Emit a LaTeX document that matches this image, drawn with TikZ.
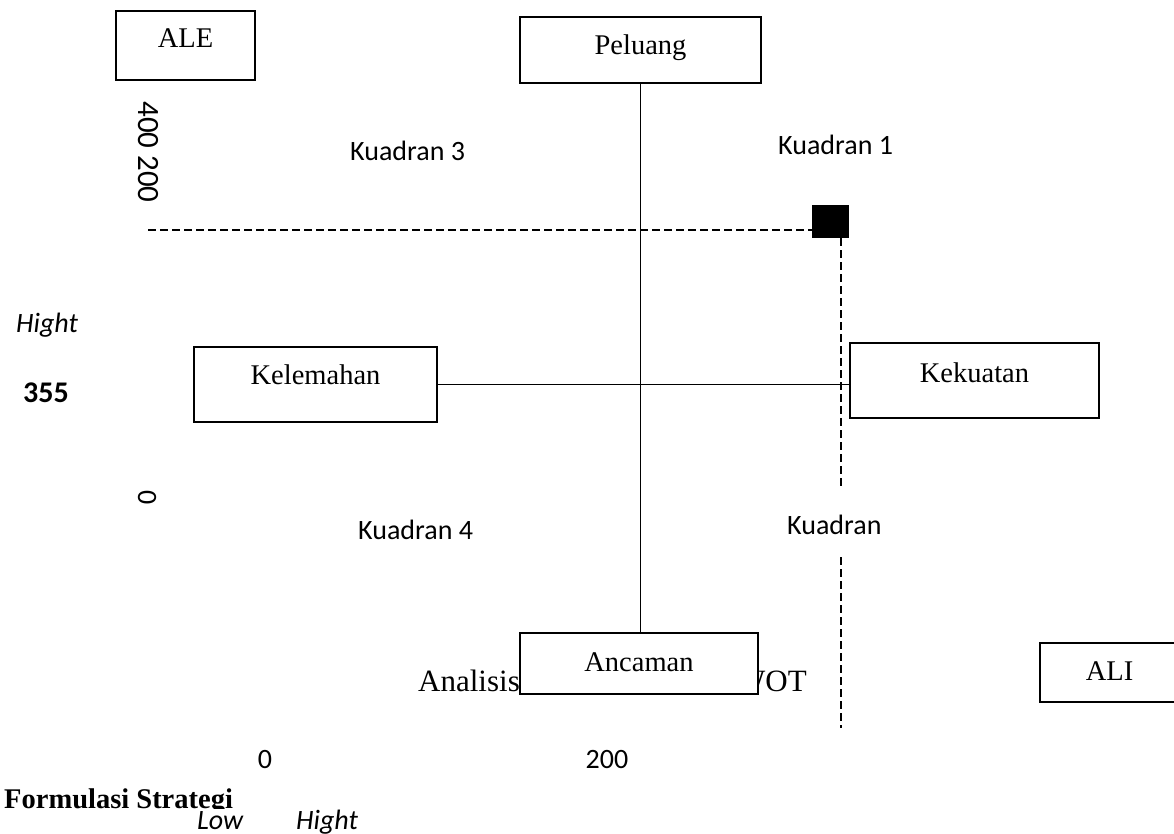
\documentclass[tikz,border=0pt]{standalone}
\usepackage{fontspec}
\setmainfont{Liberation Serif}
\newfontfamily\carlito{Carlito}
\usetikzlibrary{positioning}
\newcommand{\hurufserif}{\fontsize{28.5}{30}\selectfont}
\newcommand{\hurufsans}{\carlito\fontsize{28}{30}\selectfont}

\begin{document}
\begin{tikzpicture}[x=1pt,y=-1pt,
  kotak/.style={draw,line width=1.6pt,fill=white,inner sep=2pt,font=\hurufserif,
    text height=28pt,text depth=20pt},
  teks/.style={inner sep=0pt,anchor=base west,font=\hurufsans},
  putus/.style={line width=1.3pt,dash pattern=on 8pt off 4pt}]
  \useasboundingbox (0,0) rectangle (1174,834);

  % teks di balik kotak ancaman
  \node[inner sep=0pt,anchor=base west,font=\fontsize{31}{32}\selectfont] (analisis) at (418,691) {Analisis};
  \node[inner sep=0pt,anchor=base east,font=\fontsize{31}{32}\selectfont] (swot) at (807,691) {SWOT};

  % kotak
  \node[kotak,minimum width=139pt,minimum height=69pt,text height=25pt] (ale) at (185.5,45.5) {ALE};
  \node[kotak,minimum width=241pt,minimum height=66pt,text depth=18pt] (peluang) at (640.5,50) {Peluang};
  \node[kotak,minimum width=243pt,minimum height=75pt,text height=24pt,text depth=24pt] (kelemahan) at (315.5,384.5) {Kelemahan};
  \node[kotak,minimum width=249pt,minimum height=75pt,text height=25pt,text depth=22pt] (kekuatan) at (974.5,380.5) {Kekuatan};
  \node[kotak,minimum width=238pt,minimum height=61pt,text height=32pt,text depth=17pt] (ancaman) at (639,663.5) {Ancaman};
  \node[kotak,minimum width=139pt,minimum height=59pt,text height=32pt,text depth=17pt] (ali) at (1109.5,672.5) {ALI};

  % sumbu
  \draw[line width=1.5pt] (peluang.south) -- (peluang.south |- ancaman.north);
  \draw[line width=1.5pt] (kelemahan.east) -- (kelemahan.east -| kekuatan.west);

  % kuadran
  \node[teks] (q3) at (350,161) {Kuadran 3};
  \node[teks] (q1) at (778,155) {Kuadran 1};
  \node[teks] (q4) at (358,539) {Kuadran 4};
  \node[teks] (q2) at (787,534) {Kuadran};

  % posisi
  \node[fill=black,inner sep=0pt,minimum width=37pt,minimum height=33pt] (titik) at (830.5,221.5) {};
  \coordinate (awal) at (148,230);
  \coordinate (v1) at (841,490);
  \coordinate (v2) at (841,557);
  \coordinate (v3) at (841,728);
  \draw[putus] (awal) -- (awal -| titik.west);
  \draw[putus] (v1 |- titik.south) -- (v1);
  \draw[putus] (v2) -- (v3);

  % nilai
  \node[teks,anchor=center,rotate=-90,font=\carlito\fontsize{31}{32}\selectfont] (n400) at (148,152) {400 200};
  \node[teks,anchor=center,rotate=-90] (n0) at (147,498) {0};
  \node[teks,font=\hurufsans\itshape] (hight) at (16,332) {Hight};
  \node[teks,font=\carlito\fontsize{30}{32}\selectfont\bfseries] (n355) at (23,402) {355};
  \node[teks,anchor=center] (b0) at (265,760) {0};
  \node[teks,anchor=center] (b200) at (607,760) {200};
  \node[teks,font=\hurufserif\bfseries,text depth=0pt] (judul) at (4,808) {Formulasi Strategi};
  \node[teks,font=\hurufsans\itshape,fill=white,inner ysep=2pt] (low) at (197,829) {Low};
  \node[teks,font=\hurufsans\itshape] (hight2) at (296,829) {Hight};
\end{tikzpicture}
\end{document}
